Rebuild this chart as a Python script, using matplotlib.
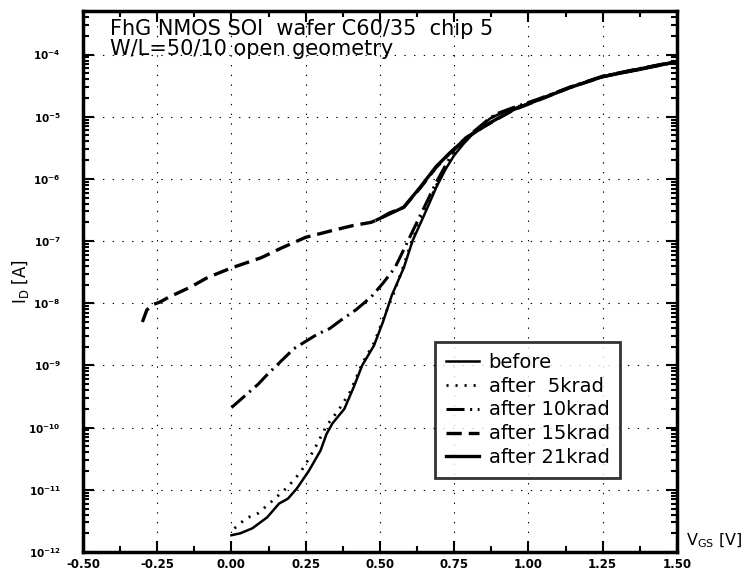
import math
import matplotlib
matplotlib.use('Agg')
import matplotlib.pyplot as plt
from matplotlib.ticker import FuncFormatter, LogLocator, MultipleLocator

plt.rcParams['lines.scale_dashes'] = False
plt.rcParams['mathtext.default'] = 'bf'

# gate voltage [V] and drain current [A] for each irradiation step
v_before = [0.00, 0.03, 0.07, 0.12, 0.16, 0.19, 0.22, 0.26, 0.30, 0.32, 0.34, 0.38, 0.41,
            0.44, 0.48, 0.51, 0.54, 0.58, 0.61, 0.65, 0.69, 0.72, 0.75, 0.78, 0.82, 0.87,
            0.90, 0.95, 1.03, 1.14, 1.25, 1.37, 1.50]
i_before = [1.86e-12, 2.0e-12, 2.4e-12, 3.6e-12, 6.0e-12, 7.2e-12, 1.05e-11, 2.0e-11, 4.3e-11,
            7.9e-11, 1.17e-10, 2.0e-10, 4.3e-10, 1.0e-9, 2.1e-9, 5.0e-9, 1.35e-8, 3.7e-8,
            1.02e-7, 2.7e-7, 7.4e-7, 1.41e-6, 2.4e-6, 3.6e-6, 5.8e-6, 9.3e-6, 1.10e-5,
            1.35e-5, 1.82e-5, 2.95e-5, 4.4e-5, 5.6e-5, 7.6e-5]

v_5k = [0.01, 0.05, 0.09, 0.14, 0.19, 0.23, 0.25, 0.28, 0.32, 0.36, 0.40, 0.44, 0.48, 0.51,
        0.55, 0.58, 0.61, 0.65, 0.69, 0.72, 0.75, 0.78, 0.82, 0.87, 0.90, 0.95, 1.03, 1.14,
        1.25, 1.37, 1.50]
i_5k = [2.4e-12, 3.5e-12, 4.2e-12, 6.8e-12, 1.12e-11, 1.86e-11, 2.6e-11, 4.6e-11, 1.07e-10,
        1.9e-10, 3.8e-10, 1.07e-9, 2.3e-9, 5.4e-9, 1.6e-8, 4.1e-8, 1.1e-7, 2.95e-7, 7.9e-7,
        1.48e-6, 2.45e-6, 3.7e-6, 5.9e-6, 9.5e-6, 1.12e-5, 1.38e-5, 1.86e-5, 3.0e-5, 4.5e-5,
        5.8e-5, 7.8e-5]

v_10k = [0.00, 0.05, 0.09, 0.12, 0.21, 0.29, 0.33, 0.37, 0.42, 0.47, 0.51, 0.55, 0.57, 0.60,
         0.645, 0.69, 0.75, 0.78, 0.82, 0.87, 0.90, 0.95, 1.03, 1.14, 1.25, 1.37, 1.50]
i_10k = [2.1e-10, 3.4e-10, 5.0e-10, 7.1e-10, 1.86e-9, 3.2e-9, 3.9e-9, 5.4e-9, 7.9e-9, 1.26e-8,
         2.1e-8, 3.7e-8, 5.8e-8, 1.15e-7, 3.2e-7, 8.9e-7, 2.95e-6, 4.1e-6, 6.0e-6, 9.5e-6,
         1.15e-5, 1.41e-5, 1.9e-5, 3.0e-5, 4.5e-5, 5.9e-5, 7.8e-5]

v_15k = [-0.30, -0.285, -0.265, -0.24, -0.21, -0.14, -0.08, 0.00, 0.10, 0.17, 0.25, 0.34, 0.41,
         0.47, 0.50, 0.53, 0.58, 0.635, 0.69, 0.735, 0.79, 0.85, 0.90, 0.95, 1.03, 1.14, 1.25,
         1.37, 1.50]
i_15k = [5.0e-9, 7.8e-9, 9.5e-9, 1.05e-8, 1.26e-8, 1.8e-8, 2.6e-8, 3.7e-8, 5.4e-8, 7.8e-8,
         1.15e-7, 1.48e-7, 1.78e-7, 2.0e-7, 2.3e-7, 2.8e-7, 3.5e-7, 7.1e-7, 1.55e-6, 2.6e-6,
         4.6e-6, 6.9e-6, 9.5e-6, 1.29e-5, 1.82e-5, 2.95e-5, 4.4e-5, 5.8e-5, 7.6e-5]

v_21k = [0.49, 0.53, 0.58, 0.635, 0.69, 0.735, 0.79, 0.85, 0.90, 0.95, 1.03, 1.14, 1.25, 1.37, 1.50]
i_21k = [2.2e-7, 2.7e-7, 3.5e-7, 7.3e-7, 1.6e-6, 2.6e-6, 4.5e-6, 7.0e-6, 9.6e-6, 1.3e-5,
         1.84e-5, 2.95e-5, 4.4e-5, 5.8e-5, 7.7e-5]

fig = plt.figure(figsize=(7.45, 5.78), dpi=100)
ax = fig.add_axes([0.1114, 0.045, 0.7973, 0.936])

ax.plot(v_before, i_before, color='k', lw=1.8, label='before')
ax.plot(v_5k, i_5k, color='k', lw=2.0, ls=(0, (1.5, 5)), label='after  5krad')
ax.plot(v_10k, i_10k, color='k', lw=2.2, ls=(0, (13, 4, 1.5, 4)), label='after 10krad')
ax.plot(v_15k, i_15k, color='k', lw=2.4, ls=(0, (11, 5)), label='after 15krad')
ax.plot(v_21k, i_21k, color='k', lw=2.4, label='after 21krad')

ax.set_yscale('log')
ax.set_xlim(-0.5, 1.5)
ax.set_ylim(1e-12, 10 ** -3.3)

ax.xaxis.set_major_locator(MultipleLocator(0.25))
ax.xaxis.set_minor_locator(MultipleLocator(0.125))
ax.yaxis.set_major_locator(LogLocator(base=10, numticks=20))
ax.yaxis.set_minor_locator(LogLocator(base=10, subs=range(2, 10), numticks=20))
ax.xaxis.set_major_formatter(FuncFormatter(lambda x, p: '%.2f' % x))
ax.yaxis.set_major_formatter(FuncFormatter(lambda y, p: r'$10^{%d}$' % round(math.log10(y))))

ax.tick_params(which='both', direction='in', top=True, right=True, width=1.5)
ax.tick_params(which='major', length=8)
ax.tick_params(which='minor', length=4)
ax.tick_params(axis='x', labelsize=8.5, pad=4)
ax.tick_params(axis='y', labelsize=7.5, pad=16)
for lab in ax.get_xticklabels():
    lab.set_fontweight('bold')

for s in ax.spines.values():
    s.set_linewidth(2.5)

ax.grid(True, which='major', color='k', lw=0.8, ls=(0, (1, 6)))

ax.text(0.045, 0.985, 'FhG NMOS SOI  wafer C60/35  chip 5\nW/L=50/10 open geometry',
        transform=ax.transAxes, ha='left', va='top', fontsize=15, linespacing=1.0)

ax.set_ylabel(r'I$_\mathrm{D}$ [A]', fontsize=12)
ax.yaxis.set_label_coords(-0.088, 0.5)
ax.text(1.015, 0.02, r'V$_\mathrm{GS}$ [V]', transform=ax.transAxes, ha='left', va='center',
        fontsize=11.5)

leg = ax.legend(loc='lower left', bbox_to_anchor=(0.593, 0.137), fontsize=14, frameon=True,
                fancybox=False, edgecolor='k', handlelength=1.7, handletextpad=0.5,
                labelspacing=0.25, borderpad=0.55, borderaxespad=0)
leg.get_frame().set_linewidth(2)

fig.savefig('out.png', dpi=100)
